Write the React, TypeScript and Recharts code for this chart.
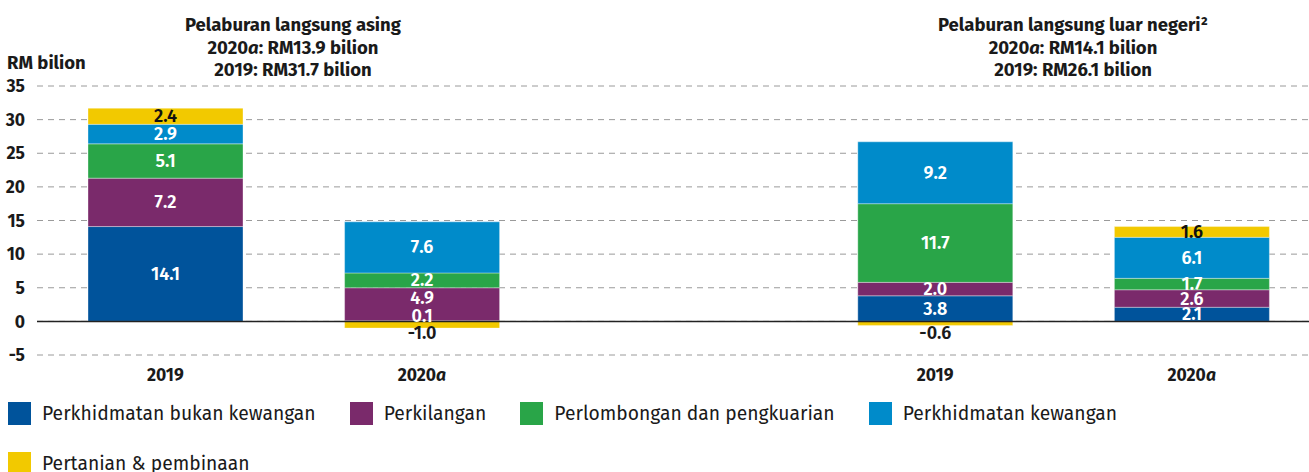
import { BarChart, Bar, XAxis, YAxis, CartesianGrid, ReferenceLine, LabelList } from 'recharts';

// one slot per bar; the middle slot is an empty spacer between the two panels
const categories = ['fdi-2019', 'fdi-2020a', 'gap', 'dia-2019', 'dia-2020a'];
const tickLabels = ['2019', '2020a', '', '2019', '2020a'];

const bukanKewangan = [14.1, 0.1, null, 3.8, 2.1];
const perkilangan = [7.2, 4.9, null, 2.0, 2.6];
const perlombongan = [5.1, 2.2, null, 11.7, 1.7];
const kewangan = [2.9, 7.6, null, 9.2, 6.1];
const pertanian = [2.4, -1.0, null, -0.6, 1.6];

const yTicks = [-5, 0, 5, 10, 15, 20, 25, 30, 35];

const SERIES = [
  { key: 'bukanKewangan', name: 'Perkhidmatan bukan kewangan', values: bukanKewangan, color: '#00539b', text: '#ffffff' },
  { key: 'perkilangan', name: 'Perkilangan', values: perkilangan, color: '#7a2a6b', text: '#ffffff' },
  { key: 'perlombongan', name: 'Perlombongan dan pengkuarian', values: perlombongan, color: '#29a548', text: '#ffffff' },
  { key: 'kewangan', name: 'Perkhidmatan kewangan', values: kewangan, color: '#008bca', text: '#ffffff' },
  { key: 'pertanian', name: 'Pertanian & pembinaan', values: pertanian, color: '#f2c900', text: '#111111' },
];

const PANELS = [
  { title: 'Pelaburan langsung asing', y2020: 'RM13.9 bilion', y2019: 'RM31.7 bilion', center: 293 },
  { title: 'Pelaburan langsung luar negeri²', y2020: 'RM14.1 bilion', y2019: 'RM26.1 bilion', center: 1073 },
];

// small hand nudges for labels that were moved in the original to avoid overlap
const LABEL_NUDGE: Record<string, number> = {
  'fdi-2020a|bukanKewangan': -5,
  'fdi-2020a|perkilangan': -6,
};

const data = categories.map((cat, i) => {
  const row: Record<string, string | number | null> = { cat };
  SERIES.forEach(s => {
    row[s.key] = s.values[i];
  });
  return row;
});

const FONT = "'Fira Sans', Roboto, 'Noto Sans', sans-serif";
const INK = '#1a1a1a';

function makeLabel(seriesKey: string, textColor: string) {
  return (props: any) => {
    const { x, y, width, height, value, index } = props;
    if (value === null || value === undefined) return null;
    const top = Math.min(y, y + height);
    const h = Math.abs(height);
    const cx = x + width / 2;
    let cy = top + h / 2;
    let fill = textColor;
    if (value < 0) {
      cy = top + 12;
      fill = INK;
    }
    cy += LABEL_NUDGE[`${categories[index]}|${seriesKey}`] || 0;
    return (
      <text
        x={cx}
        y={cy}
        textAnchor="middle"
        dominantBaseline="central"
        fill={fill}
        fontSize={18}
        fontWeight={600}
        fontFamily={FONT}
      >
        {Number(value).toFixed(1)}
      </text>
    );
  };
}

function XTick(props: any) {
  const { x, y, payload } = props;
  const label = tickLabels[categories.indexOf(payload.value)] || '';
  if (!label) return null;
  const italicA = label.endsWith('a');
  return (
    <text x={x} y={y + 8} textAnchor="middle" dominantBaseline="central" fill={INK} fontSize={17.5} fontWeight={700} fontFamily={FONT}>
      {italicA ? label.slice(0, -1) : label}
      {italicA && <tspan fontStyle="italic">a</tspan>}
    </text>
  );
}

export default function App() {
  return (
    <div
      style={{
        position: 'absolute',
        left: 0,
        top: 0,
        width: 1309,
        height: 472,
        overflow: 'hidden',
        background: '#ffffff',
        fontFamily: FONT,
        color: INK,
      }}
    >
      {PANELS.map(p => (
        <div
          key={p.title}
          style={{
            position: 'absolute',
            left: p.center - 200,
            width: 400,
            top: 14,
            textAlign: 'center',
            fontSize: 18.5,
            fontWeight: 700,
            lineHeight: '22.5px',
          }}
        >
          <div>{p.title}</div>
          <div>
            2020<i>a</i>: {p.y2020}
          </div>
          <div>2019: {p.y2019}</div>
        </div>
      ))}
      <div style={{ position: 'absolute', left: 7, top: 52, fontSize: 18.5, fontWeight: 700, lineHeight: '22px' }}>
        RM bilion
      </div>

      <BarChart
        width={1320}
        height={472}
        data={data}
        stackOffset="sign"
        margin={{ top: 86, right: 0, left: 0, bottom: 87 }}
        barSize={155}
      >
        <CartesianGrid vertical={false} stroke="#9a9a9a" strokeDasharray="6 5" />
        <XAxis
          dataKey="cat"
          axisLine={false}
          tickLine={false}
          tickSize={0}
          tickMargin={12}
          height={30}
          interval={0}
          tick={<XTick />}
        />
        <YAxis
          domain={[-5, 35]}
          ticks={yTicks}
          width={37}
          axisLine={false}
          tickLine={false}
          tickSize={0}
          tickMargin={12}
          tick={{ fill: INK, fontSize: 17.5, fontWeight: 700, fontFamily: FONT }}
        />
        {SERIES.map(s => (
          <Bar
            key={s.key}
            dataKey={s.key}
            name={s.name}
            stackId="a"
            fill={s.color}
            stroke="rgba(255,255,255,0.35)"
            strokeWidth={1}
            isAnimationActive={false}
          >
            <LabelList dataKey={s.key} content={makeLabel(s.key, s.text)} />
          </Bar>
        ))}
        <ReferenceLine y={0} stroke="#222222" strokeWidth={1.5} />
      </BarChart>

      <div
        style={{
          position: 'absolute',
          left: 8,
          top: 402,
          width: 1130,
          display: 'flex',
          flexWrap: 'wrap',
          columnGap: 34,
          rowGap: 27,
          fontSize: 19.3,
        }}
      >
        {SERIES.map(s => (
          <div key={s.key} style={{ display: 'flex', alignItems: 'center', height: 23 }}>
            <span style={{ display: 'inline-block', width: 23, height: 23, background: s.color, marginRight: 11 }} />
            <span>{s.name}</span>
          </div>
        ))}
      </div>
    </div>
  );
}
